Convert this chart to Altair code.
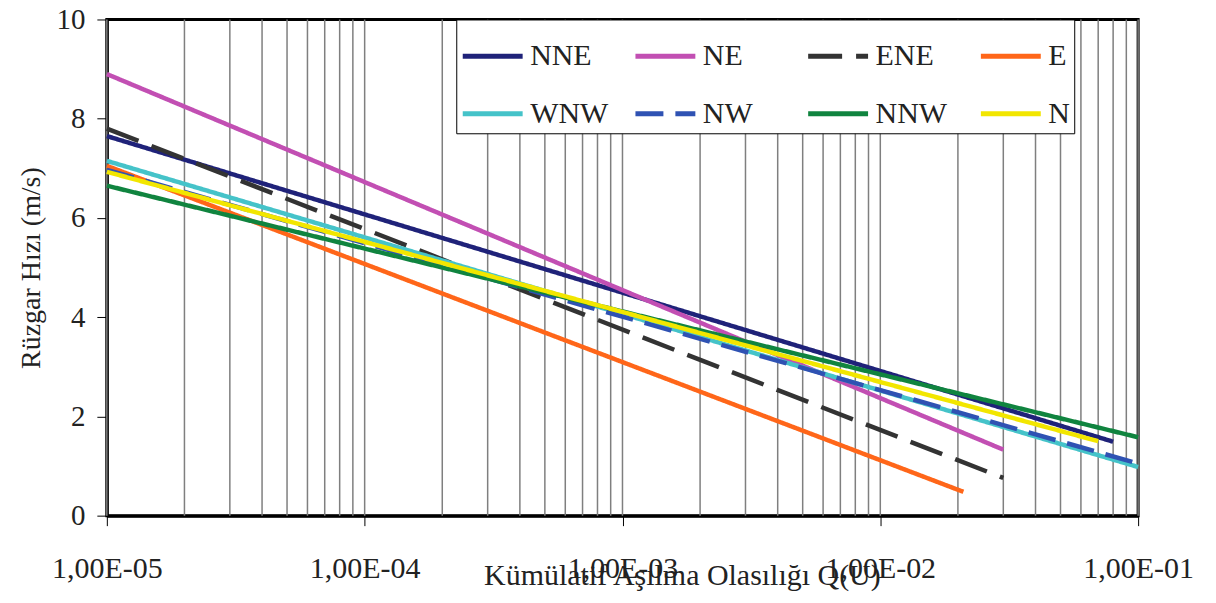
import altair as alt
import pandas as pd

# ---- data ----
series = ["NNE", "NE", "ENE", "E", "WNW", "NW", "NNW", "N"]
colors = ["#1f2279", "#c24fb3", "#333333", "#ff6619", "#45c3c9", "#2f52b3", "#10843f", "#f2e600"]
dashes = [[1, 0], [1, 0], [34, 14], [1, 0], [1, 0], [28, 12], [1, 0], [1, 0]]
q_start = [1e-5, 1e-5, 1e-5, 1e-5, 1e-5, 1e-5, 1e-5, 1e-5]
v_start = [7.65, 8.90, 7.80, 7.05, 7.15, 6.97, 6.65, 6.93]
q_end = [0.08, 0.03, 0.03, 0.021, 0.1, 0.1, 0.1, 0.07]
v_end = [1.49, 1.33, 0.76, 0.48, 0.98, 1.05, 1.58, 1.50]
# legend fills column by column, so list entries to read row by row
legend_order = ["NNE", "WNW", "NE", "NW", "ENE", "NNW", "E", "N"]

x_decades = [1e-5, 1e-4, 1e-3, 1e-2, 1e-1]
x_tick_labels = ["1,00E-05", "1,00E-04", "1,00E-03", "1,00E-02", "1,00E-01"]
grid_q = [m * 10.0 ** e for e in range(-5, -1) for m in range(1, 10)] + [1e-1]
y_ticks = [0, 2, 4, 6, 8, 10]

rows = []
for i, s in enumerate(series):
    rows.append({"series": s, "q": q_start[i], "v": v_start[i], "pt": 0})
    rows.append({"series": s, "q": q_end[i], "v": v_end[i], "pt": 1})
df = pd.DataFrame(rows)
grid_df = pd.DataFrame({"q": grid_q})

col_map = dict(zip(series, colors))
dash_map = dict(zip(series, dashes))

FONT = "Liberation Serif"
xscale = alt.Scale(type="log", domain=[1e-5, 1e-1], nice=False)
yscale = alt.Scale(domain=[0, 10], nice=False)

label_expr = "[" + ",".join("'%s'" % t for t in x_tick_labels) + "][round(log(datum.value)/LN10)+5]"

x_axis = alt.Axis(
    values=x_decades,
    labelExpr=label_expr,
    title="Kümülatif Aşılma Olasılığı Q(U)",
    grid=False,
    tickSize=10,
    tickColor="black",
    tickWidth=1,
    domainColor="black",
    domainWidth=3,
    labelFont=FONT,
    labelFontSize=30,
    labelColor="#222",
    labelPadding=28,
    labelFlush=False,
    labelOverlap=False,
    titleFont=FONT,
    titleFontSize=30,
    titleFontWeight="normal",
    titleColor="#222",
    titleX=576,
    titleY=60,
    titleBaseline="middle",
    titleAlign="center",
)

legend_kw = dict(
    title=None,
    orient="none",
    legendX=350,
    legendY=0,
    columns=4,
    gridAlign="all",
    columnPadding=16,
    rowPadding=10,
    padding=4,
    symbolType="stroke",
    symbolSize=3600,
    symbolStrokeWidth=5,
    labelFont=FONT,
    labelFontSize=30,
    labelColor="#222",
    labelOffset=5,
    labelLimit=300,
    fillColor="white",
    strokeColor="black",
)

grid = alt.Chart(grid_df).mark_rule(color="#7f7f7f", strokeWidth=1.5).encode(
    x=alt.X("q:Q", scale=xscale, axis=x_axis)
)

lines = alt.Chart(df).mark_line(strokeWidth=4.5, strokeCap="butt").encode(
    x=alt.X("q:Q", scale=xscale, axis=x_axis),
    y=alt.Y(
        "v:Q",
        scale=yscale,
        axis=alt.Axis(
            values=y_ticks,
            title="Rüzgar Hızı (m/s)",
            grid=False,
            tickSize=10,
            tickColor="black",
            tickWidth=1,
            domainColor="black",
            domainWidth=3,
            labelFont=FONT,
            labelFontSize=29,
            labelColor="#222",
            labelPadding=12,
            titleFont=FONT,
            titleFontSize=28,
            titleFontWeight="normal",
            titleColor="#222",
            titlePadding=10,
        ),
    ),
    color=alt.Color(
        "series:N",
        scale=alt.Scale(domain=legend_order, range=[col_map[s] for s in legend_order]),
        legend=alt.Legend(**legend_kw),
    ),
    strokeDash=alt.StrokeDash(
        "series:N",
        scale=alt.Scale(domain=legend_order, range=[dash_map[s] for s in legend_order]),
        legend=alt.Legend(**legend_kw),
    ),
    order=alt.Order("pt:Q"),
    detail="series:N",
)

chart = (
    alt.layer(grid, lines)
    .properties(
        width=1033,
        height=497,
        autosize=alt.AutoSizeParams(type="none"),
        padding={"left": 99, "top": 11, "right": 70, "bottom": 79},
        background="white",
    )
    .configure_view(stroke="black", strokeWidth=3)
)

chart.save("out.html", embed_options={"renderer": "svg", "actions": False})
